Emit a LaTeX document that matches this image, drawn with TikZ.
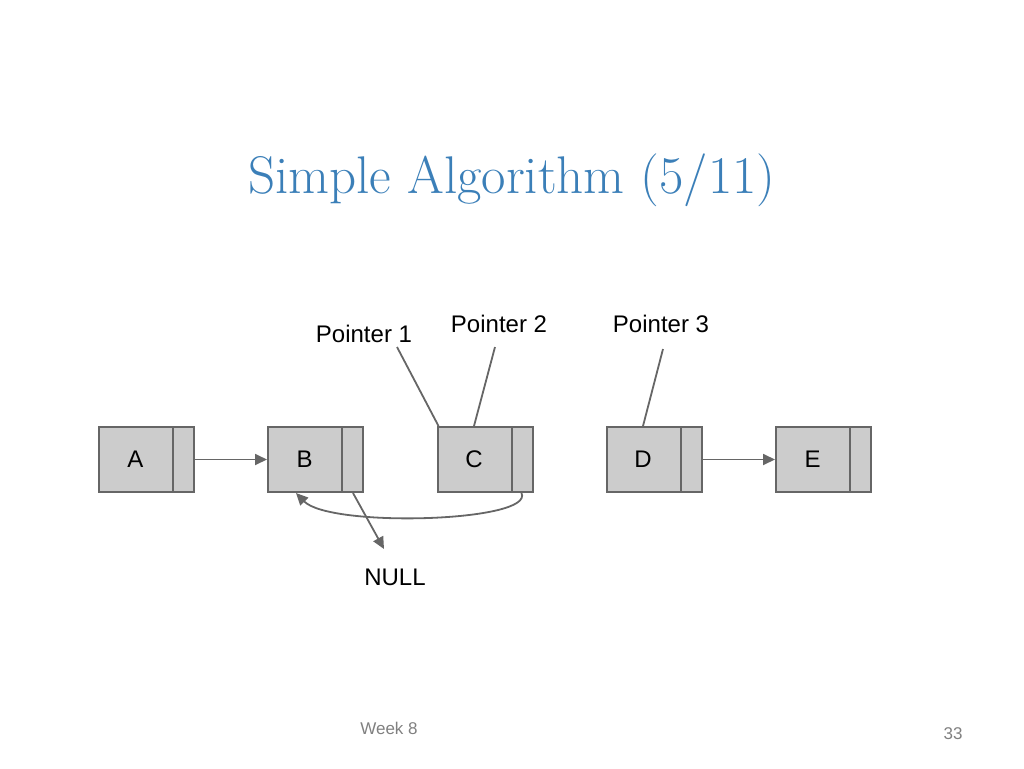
\documentclass[tikz,border=0pt]{standalone}
\usepackage{fontspec}
\newfontfamily\sans{Liberation Sans}
\usetikzlibrary{arrows.meta}
\definecolor{ttl}{HTML}{3B7FB8}
\definecolor{bx}{HTML}{CCCCCC}
\definecolor{ln}{HTML}{666666}
\begin{document}
\begin{tikzpicture}[x=1pt,y=-1pt,
  cell/.style={draw=ln,fill=bx,line width=2pt,minimum width=95pt,minimum height=65pt,inner sep=0pt},
  lab/.style={font=\sans\fontsize{24}{28}\selectfont,inner sep=0pt},
  con/.style={draw=ln,line width=1.8pt},
  arr/.style={con,-{Triangle[length=12pt,width=11pt]}}]
\useasboundingbox (0,0) rectangle (1024,768);
\node[font=\fontsize{53}{60}\selectfont,text=ttl] (title) at (512,180) {Simple Algorithm (5/11)};
\foreach \n/\x in {A/146.5,B/315.5,C/485,D/654,E/823.5}{
  \node[cell] (\n) at (\x,459.5) {};
  \draw[ln,line width=2pt] ([xshift=-22pt]\n.north east) -- ([xshift=-22pt]\n.south east);
  \node[lab] (t\n) at ([xshift=-11pt]\n.center) {\n};
}
\node[lab] (p1) at (364,334) {Pointer 1};
\node[lab] (p2) at (499,324) {Pointer 2};
\node[lab] (p3) at (661,324) {Pointer 3};
\node[lab] (null) at (395,577) {NULL};
\node[font=\sans\fontsize{17}{20}\selectfont,text=gray,inner sep=0pt] (wk) at (389,728) {Week 8};
\node[font=\sans\fontsize{17}{20}\selectfont,text=gray,inner sep=0pt] (pg) at (953,734) {33};
\coordinate (p1e) at (397,347);
\coordinate (p2e) at (495,347);
\coordinate (p3e) at (663,349);
\draw[con] (p1e) -- ([xshift=2pt]C.north west);
\draw[con] (p2e) -- ([xshift=-11pt]C.north);
\draw[con] (p3e) -- ([xshift=-11pt]D.north);
\draw[arr] (A.east) -- (B.west);
\draw[arr] (D.east) -- (E.west);
\draw[arr] ([xshift=-12pt]C.south east) .. controls (535,522) and (330,528) .. ([xshift=29pt]B.south west);
\coordinate (nulltip) at (384,549);
\draw[arr] ([xshift=-11pt]B.south east) -- (nulltip);
\end{tikzpicture}
\end{document}
